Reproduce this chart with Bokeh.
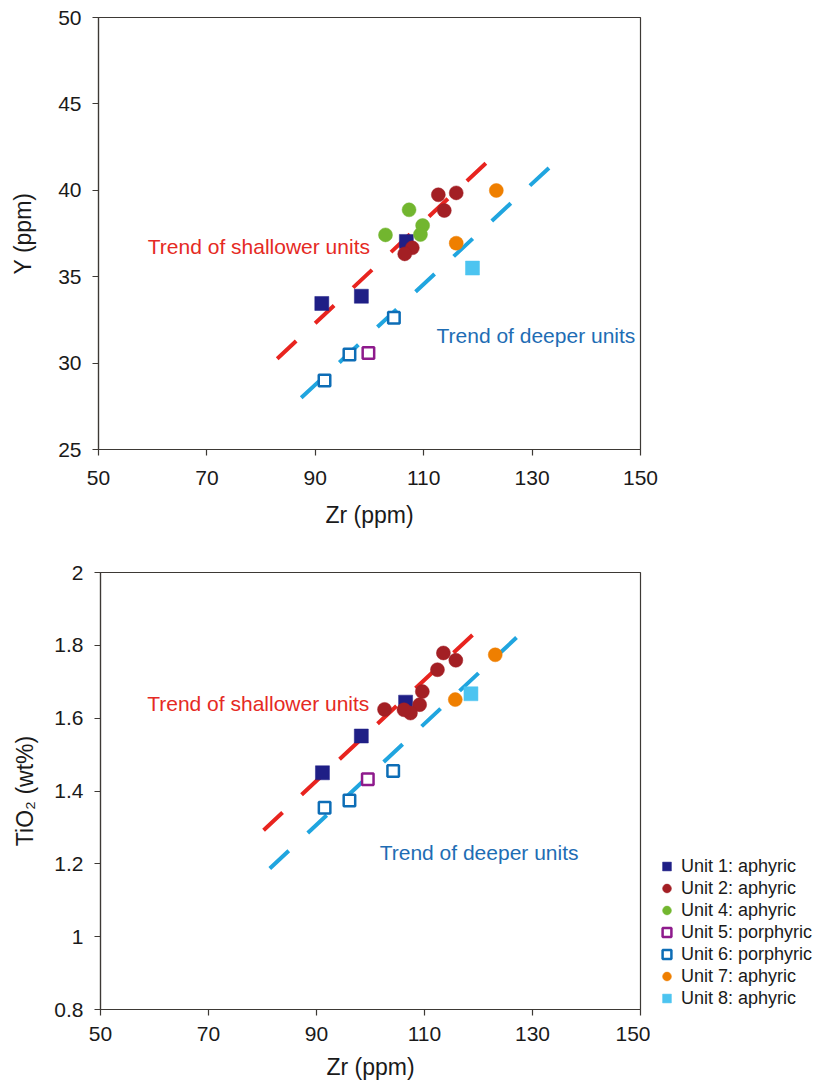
from bokeh.plotting import figure
from bokeh.layouts import column, row
from bokeh.models import Range1d, FixedTicker, Legend, LegendItem
from bokeh.core.properties import value
from bokeh.embed import file_html
from bokeh.resources import INLINE

FONT = "Liberation Sans"

# ---------------- data: Y vs Zr (top) ----------------
top_u1_zr = [91.2, 98.5, 106.8]
top_u1_y = [33.45, 33.87, 37.04]
top_u2_zr = [112.7, 116.0, 113.8, 107.9, 106.5]
top_u2_y = [39.74, 39.85, 38.83, 36.67, 36.32]
top_u4_zr = [102.95, 107.3, 109.8, 109.4]
top_u4_y = [37.42, 38.87, 37.96, 37.44]
top_u5_zr = [99.8]
top_u5_y = [30.59]
top_u6_zr = [104.5, 96.3, 91.7]
top_u6_y = [32.63, 30.5, 29.0]
top_u7_zr = [123.4, 116.0]
top_u7_y = [39.99, 36.94]
top_u8_zr = [119.0]
top_u8_y = [35.5]
top_red_zr = [82.97, 122.32]
top_red_y = [30.25, 41.82]
top_blue_zr = [87.40, 133.4]
top_blue_y = [27.99, 41.38]

# ---------------- data: TiO2 vs Zr (bottom) ----------------
bot_u1_zr = [106.5, 98.3, 91.1]
bot_u1_ti = [1.644, 1.551, 1.450]
bot_u2_zr = [113.5, 115.8, 112.4, 109.6, 109.1, 102.6, 107.4, 106.2]
bot_u2_ti = [1.779, 1.759, 1.733, 1.673, 1.637, 1.624, 1.614, 1.623]
bot_u5_zr = [99.5]
bot_u5_ti = [1.432]
bot_u6_zr = [104.2, 96.1, 91.5]
bot_u6_ti = [1.455, 1.374, 1.354]
bot_u7_zr = [123.1, 115.7]
bot_u7_ti = [1.774, 1.651]
bot_u8_zr = [118.6]
bot_u8_ti = [1.667]
bot_red_zr = [80.2, 119.8]
bot_red_ti = [1.292, 1.841]
bot_blue_zr = [81.35, 127.3]
bot_blue_ti = [1.187, 1.825]

x_ticks = [50, 70, 90, 110, 130, 150]
y_ticks_top = [25, 30, 35, 40, 45, 50]
y_ticks_bot = [0.8, 1.0, 1.2, 1.4, 1.6, 1.8, 2.0]
y_labels_bot = ["0.8", "1", "1.2", "1.4", "1.6", "1.8", "2"]

labels = ["Unit 1: aphyric", "Unit 2: aphyric", "Unit 4: aphyric", "Unit 5: porphyric",
          "Unit 6: porphyric", "Unit 7: aphyric", "Unit 8: aphyric"]

C_U1 = "#1f1f86"
C_U2 = "#a31f24"
C_U4 = "#72b62f"
C_U5 = "#8e1a8c"
C_U6 = "#0d6db6"
C_U7 = "#ef7f00"
C_U8 = "#4cc4f0"
C_RED = "#e8241f"
C_BLUE = "#20a5df"
AX = "#3d3935"


def style(p, xlab, ylab, ystand, xlstand, xstand):
    p.outline_line_color = AX
    p.outline_line_width = 1.2
    p.xgrid.visible = False
    p.ygrid.visible = False
    for ax in (p.xaxis[0], p.yaxis[0]):
        ax.axis_line_color = AX
        ax.axis_line_width = 1.2
        ax.major_tick_line_color = AX
        ax.major_tick_line_width = 1.2
        ax.major_tick_out = 6
        ax.major_tick_in = 0
        ax.minor_tick_out = 0
        ax.minor_tick_in = 0
        ax.major_label_text_font = FONT
        ax.major_label_text_font_size = "21px"
        ax.major_label_text_color = "#1a1a1a"
        ax.major_label_standoff = 11
        ax.axis_label_text_font = FONT
        ax.axis_label_text_font_size = "23px"
        ax.axis_label_text_font_style = "normal"
        ax.axis_label_text_color = "#1a1a1a"
    p.xaxis[0].axis_label = xlab
    p.yaxis[0].axis_label = ylab
    p.xaxis[0].major_label_standoff = xlstand
    p.xaxis[0].axis_label_standoff = xstand
    p.yaxis[0].axis_label_standoff = ystand
    p.xaxis[0].ticker = FixedTicker(ticks=x_ticks)


def add_points(p, d):
    rs = []
    rs.append(p.scatter(d[0][0], d[0][1], marker="square", size=14, fill_color=C_U1, line_color=C_U1, line_width=0.5))
    rs.append(p.scatter(d[1][0], d[1][1], marker="circle", size=14, fill_color=C_U2, line_color=C_U2, line_width=0.5))
    if d[2] is not None:
        rs.append(p.scatter(d[2][0], d[2][1], marker="circle", size=14, fill_color=C_U4, line_color=C_U4, line_width=0.5))
    rs.append(p.scatter(d[3][0], d[3][1], marker="square", size=11.5, fill_color="white", line_color=C_U5, line_width=2.5))
    rs.append(p.scatter(d[4][0], d[4][1], marker="square", size=11.5, fill_color="white", line_color=C_U6, line_width=2.5))
    rs.append(p.scatter(d[5][0], d[5][1], marker="circle", size=14, fill_color=C_U7, line_color=C_U7, line_width=0.5))
    rs.append(p.scatter(d[6][0], d[6][1], marker="square", size=14, fill_color=C_U8, line_color=C_U8, line_width=0.5))
    return rs


# ---------------- top figure ----------------
p1 = figure(width=823, height=540, output_backend="svg", toolbar_location=None,
            x_range=Range1d(50, 150), y_range=Range1d(25, 50),
            min_border_left=98, min_border_right=183, min_border_top=17, min_border_bottom=91)
style(p1, "Zr (ppm)", "Y (ppm)", 19, 15, 14)
p1.yaxis[0].ticker = FixedTicker(ticks=y_ticks_top)

p1.line(top_red_zr, top_red_y, line_color=C_RED, line_width=4, line_dash="26 26")
p1.line(top_blue_zr, top_blue_y, line_color=C_BLUE, line_width=4, line_dash="26 26")
add_points(p1, [(top_u1_zr, top_u1_y), (top_u2_zr, top_u2_y), (top_u4_zr, top_u4_y),
                (top_u5_zr, top_u5_y), (top_u6_zr, top_u6_y), (top_u7_zr, top_u7_y),
                (top_u8_zr, top_u8_y)])
p1.text([59.1], [36.75], text=["Trend of shallower units"], text_font=value(FONT),
        text_font_size="21px", text_color="#e52a24", text_baseline="alphabetic", text_align="left")
p1.text([112.36], [31.6], text=["Trend of deeper units"], text_font=value(FONT),
        text_font_size="21px", text_color="#1e6db4", text_baseline="alphabetic", text_align="left")

# ---------------- bottom figure ----------------
p2 = figure(width=650, height=544, output_backend="svg", toolbar_location=None,
            x_range=Range1d(50, 150), y_range=Range1d(0.8, 2.0),
            min_border_left=100, min_border_right=10, min_border_top=32, min_border_bottom=75)
style(p2, "Zr (ppm)", "TiO\u2082 (wt%)", 13, 11, 10)
p2.yaxis[0].ticker = FixedTicker(ticks=y_ticks_bot)
p2.yaxis[0].major_label_overrides = {t: s for t, s in zip(y_ticks_bot, y_labels_bot)}

p2.line(bot_red_zr, bot_red_ti, line_color=C_RED, line_width=4, line_dash="26 26")
p2.line(bot_blue_zr, bot_blue_ti, line_color=C_BLUE, line_width=4, line_dash="26 26")
add_points(p2, [(bot_u1_zr, bot_u1_ti), (bot_u2_zr, bot_u2_ti), None,
                (bot_u5_zr, bot_u5_ti), (bot_u6_zr, bot_u6_ti), (bot_u7_zr, bot_u7_ti),
                (bot_u8_zr, bot_u8_ti)])
p2.text([58.65], [1.640], text=["Trend of shallower units"], text_font=value(FONT),
        text_font_size="21px", text_color="#e52a24", text_baseline="alphabetic", text_align="left")
p2.text([101.7], [1.232], text=["Trend of deeper units"], text_font=value(FONT),
        text_font_size="21px", text_color="#1e6db4", text_baseline="alphabetic", text_align="left")

# ---------------- legend panel (to the right of bottom plot) ----------------
pl = figure(width=173, height=544, output_backend="svg", toolbar_location=None,
            x_range=Range1d(0, 1), y_range=Range1d(0, 1),
            x_axis_type=None, y_axis_type=None,
            min_border_left=0, min_border_right=0, min_border_top=0, min_border_bottom=0)
pl.outline_line_color = None
pl.xgrid.visible = False
pl.ygrid.visible = False
# legend swatches use the same styled renderers; their points lie outside this panel's view
lrs = add_points(pl, [(bot_u1_zr, bot_u1_ti), (bot_u2_zr, bot_u2_ti), (top_u4_zr, top_u4_y),
                      (bot_u5_zr, bot_u5_ti), (bot_u6_zr, bot_u6_ti), (bot_u7_zr, bot_u7_ti),
                      (bot_u8_zr, bot_u8_ti)])
legend = Legend(items=[LegendItem(label=l, renderers=[r]) for l, r in zip(labels, lrs)],
                location=(4, 0), padding=0, margin=0, spacing=0,
                glyph_width=25, glyph_height=22, label_standoff=2,
                label_text_font=FONT, label_text_font_size="18px", label_text_color="#1a1a1a",
                border_line_alpha=0, background_fill_alpha=0)
pl.add_layout(legend, "center")

layout = column(p1, row(p2, pl, spacing=0), spacing=0)
open("out.html", "w").write(file_html(layout, INLINE))
